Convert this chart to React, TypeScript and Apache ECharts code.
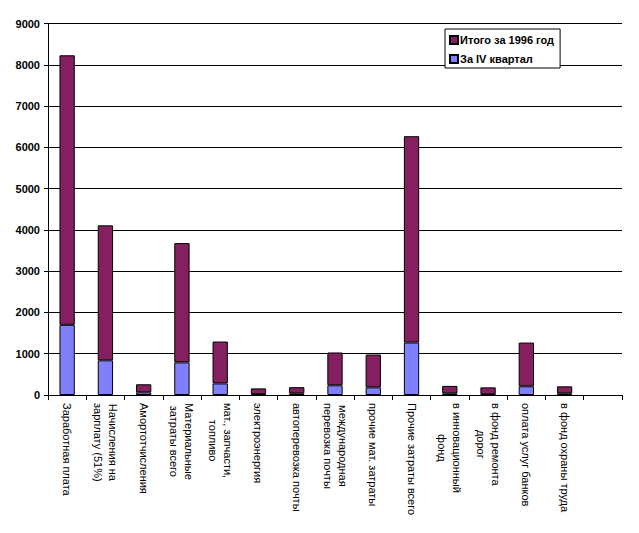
import React, { useEffect, useRef } from "react";
import * as echarts from "echarts";

const categories = [
  "Заработная плата",
  "Начисления на\nзарплату (51%)",
  "Амортотчисления",
  "Материальные\nзатраты всего",
  "мат., запчасти,\nтопливо",
  "электроэнергия",
  "автоперевозка почты",
  "международная\nперевозка почты",
  "прочие мат. затраты",
  "Прочие затраты всего",
  "в инновационный\nфонд",
  "в фонд ремонта\nдорог",
  "оплата услуг банков",
  "в фонд охраны труда",
  "",
];

const quarterValues = [1700, 840, 65, 790, 280, 20, 40, 235, 185, 1270, 40, 15, 210, 40, null];
const yearValues = [6530, 3270, 195, 2890, 1015, 140, 150, 795, 795, 5000, 180, 170, 1060, 170, null];

const yTicks = { min: 0, max: 9000, interval: 1000 };

const seriesNames = ["Итого за 1996 год", "За IV квартал"];

export default function App() {
  const ref = useRef<HTMLDivElement>(null);
  useEffect(() => {
    document.body.style.margin = "0";
    const chart = echarts.init(ref.current!, null, { renderer: "svg" });
    const font = "'Liberation Sans', Arial, sans-serif";
    chart.setOption({
      animation: false,
      textStyle: { fontFamily: font },
      grid: { left: 48, top: 23.5, width: 574, height: 371.5 },
      legend: {
        orient: "vertical",
        left: 445,
        top: 29,
        data: seriesNames,
        backgroundColor: "#fff",
        borderColor: "#000",
        borderWidth: 1,
        padding: [4, 6, 2, 4],
        itemGap: 5,
        itemWidth: 8,
        itemHeight: 8,
        icon: "rect",
        textStyle: {
          fontFamily: font,
          fontSize: 11,
          fontWeight: "bold",
          color: "#000",
          lineHeight: 14,
          padding: [0, 0, 0, -3],
        },
      },
      xAxis: {
        type: "category",
        data: categories,
        axisLine: { lineStyle: { color: "#000", width: 1 } },
        axisTick: { show: true, alignWithLabel: false, length: 5, lineStyle: { color: "#000" } },
        axisLabel: {
          interval: 0,
          rotate: -90,
          margin: 8,
          color: "#000",
          fontSize: 11,
          fontFamily: font,
          formatter: (v: string) =>
            v
              .split("\n")
              .map((l) => `{c|${l}}`)
              .join("\n"),
          rich: {
            c: { align: "center", fontSize: 11, fontFamily: font, color: "#000", lineHeight: 15 },
          },
        },
      },
      yAxis: {
        type: "value",
        min: yTicks.min,
        max: yTicks.max,
        interval: yTicks.interval,
        axisLine: { show: true, lineStyle: { color: "#000", width: 1 } },
        axisTick: { show: true, length: 4, lineStyle: { color: "#000" } },
        splitLine: { lineStyle: { color: "#000", width: 1 } },
        axisLabel: {
          color: "#000",
          fontSize: 11,
          fontWeight: "bold",
          fontFamily: font,
          margin: 8,
          formatter: (v: number) => String(v),
        },
      },
      series: [
        {
          name: seriesNames[1],
          type: "bar",
          stack: "total",
          data: quarterValues,
          barWidth: "40%",
          itemStyle: { color: "#8080FF", borderColor: "#000", borderWidth: 1 },
        },
        {
          name: seriesNames[0],
          type: "bar",
          stack: "total",
          data: yearValues,
          barWidth: "40%",
          itemStyle: { color: "#84205F", borderColor: "#000", borderWidth: 1 },
        },
      ],
    });
    return () => chart.dispose();
  }, []);
  return <div ref={ref} style={{ width: 639, height: 533 }} />;
}
